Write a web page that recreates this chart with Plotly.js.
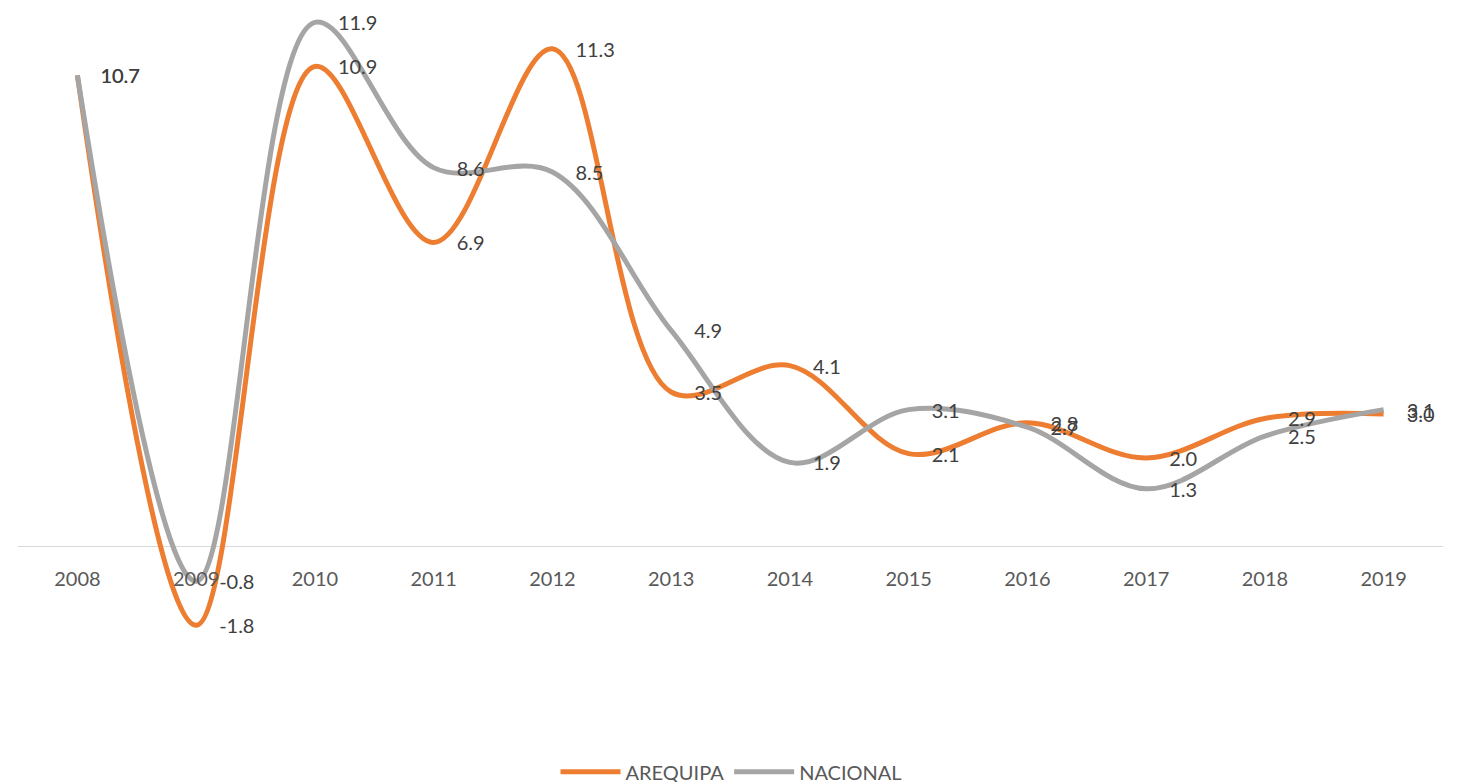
<!DOCTYPE html>
<html>
<head>
<meta charset="utf-8">
<script src="https://cdn.plot.ly/plotly-3.0.1.min.js"></script>
<style>html,body{margin:0;padding:0;background:#fff;}#chart{width:1463px;height:782px;}</style>
</head>
<body>
<div id="chart"></div>
<script>
const years = ['2008','2009','2010','2011','2012','2013','2014','2015','2016','2017','2018','2019'];
const arequipa = [10.7, -1.8, 10.9, 6.9, 11.3, 3.5, 4.1, 2.1, 2.8, 2.0, 2.9, 3.0];
const nacional = [10.7, -0.8, 11.9, 8.6, 8.5, 4.9, 1.9, 3.1, 2.7, 1.3, 2.5, 3.1];
const seriesNames = ['AREQUIPA', 'NACIONAL'];
const colors = ['#ED7D31', '#A5A5A5'];
const FONT = 'Lato, "Open Sans", sans-serif';

const yRange = [-4, 12.41];
const xRange = [-0.5, 11.5];
// label offsets (in axis units) so labels sit right of / slightly under each point
const dxCat = 23 / 118.75;
const dyVal = 3 / 44;

const traces = [arequipa, nacional].map((vals, i) => ({
  type: 'scatter', mode: 'lines', name: seriesNames[i],
  x: years, y: vals,
  line: {color: colors[i], width: 5, shape: 'spline', smoothing: 1},
  cliponaxis: false, hoverinfo: 'x+y'
}));

// NACIONAL labels first so AREQUIPA labels are drawn on top
[nacional, arequipa].forEach(vals => {
  traces.push({
    type: 'scatter', mode: 'text', showlegend: false,
    x: years, y: vals, xaxis: 'x2', yaxis: 'y2',
    text: vals.map(v => v.toFixed(1)),
    textposition: 'middle right',
    textfont: {family: FONT, size: 20, color: '#404040'},
    cliponaxis: false, hoverinfo: 'skip'
  });
});

const layout = {
  width: 1463, height: 782,
  margin: {l: 18, r: 20, t: 0, b: 60},
  paper_bgcolor: '#ffffff', plot_bgcolor: 'rgba(0,0,0,0)',
  showlegend: true,
  legend: {orientation: 'h', x: 0.5, xanchor: 'center', xref: 'container',
           y: 0.013, yanchor: 'middle', yref: 'container',
           font: {family: FONT, size: 20, color: '#595959'}, itemwidth: 60, traceorder: 'normal'},
  xaxis: {type: 'category', range: xRange, showgrid: false, showline: false, zeroline: false,
          ticks: '', ticklabelstandoff: 19, anchor: 'free',
          position: (0 - yRange[0]) / (yRange[1] - yRange[0]),
          tickfont: {family: FONT, size: 20, color: '#595959'}},
  yaxis: {range: yRange, showgrid: false, showline: false, showticklabels: false,
          zeroline: true, zerolinecolor: '#D9D9D9', zerolinewidth: 1, ticks: ''},
  xaxis2: {type: 'category', overlaying: 'x', range: [xRange[0] - dxCat, xRange[1] - dxCat],
           visible: false, showgrid: false, zeroline: false},
  yaxis2: {overlaying: 'y', range: [yRange[0] + dyVal, yRange[1] + dyVal],
           visible: false, showgrid: false, zeroline: false}
};

Plotly.newPlot('chart', traces, layout, {displayModeBar: false, staticPlot: true});
</script>
</body>
</html>
